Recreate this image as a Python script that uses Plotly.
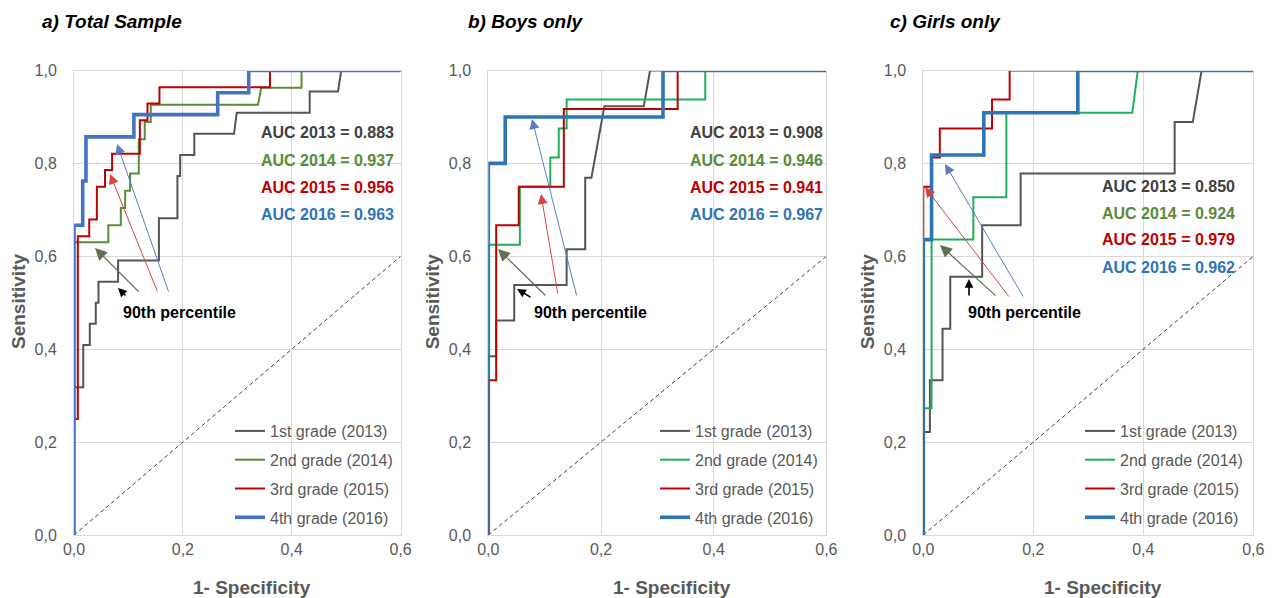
import plotly.graph_objects as go

# ------------------------------------------------------------------ data
GRADES = ["1st grade (2013)", "2nd grade (2014)", "3rd grade (2015)", "4th grade (2016)"]
YEARS = [2013, 2014, 2015, 2016]
PANEL_TITLES = ["a) Total Sample", "b) Boys only", "c) Girls only"]
X_TICKS = [0.0, 0.2, 0.4, 0.6]
Y_TICKS = [0.0, 0.2, 0.4, 0.6, 0.8, 1.0]
DIAG_X = [0.0, 0.6]
DIAG_Y = [0.0, 0.6]

# a) Total sample  (1 - specificity, sensitivity) vertices
a13_x = [0, 0, 0.017, 0.017, 0.029, 0.029, 0.040, 0.040, 0.045, 0.045, 0.081, 0.081, 0.156, 0.156,
         0.190, 0.190, 0.195, 0.195, 0.221, 0.221, 0.294, 0.299, 0.433, 0.433, 0.485, 0.491, 0.6]
a13_y = [0, 0.318, 0.318, 0.409, 0.409, 0.455, 0.455, 0.500, 0.500, 0.545, 0.545, 0.591, 0.591, 0.682,
         0.682, 0.773, 0.773, 0.818, 0.818, 0.864, 0.864, 0.909, 0.909, 0.955, 0.955, 1.0, 1.0]
a14_x = [0, 0, 0.063, 0.063, 0.086, 0.086, 0.094, 0.094, 0.103, 0.103, 0.119, 0.119, 0.130, 0.130,
         0.141, 0.141, 0.338, 0.344, 0.418, 0.418, 0.6]
a14_y = [0, 0.630, 0.630, 0.667, 0.667, 0.704, 0.704, 0.741, 0.741, 0.778, 0.778, 0.852, 0.852, 0.889,
         0.889, 0.926, 0.926, 0.963, 0.963, 1.0, 1.0]
a15_x = [0, 0, 0.007, 0.007, 0.028, 0.028, 0.042, 0.042, 0.057, 0.057, 0.070, 0.070, 0.121, 0.121,
         0.135, 0.135, 0.157, 0.157, 0.360, 0.360, 0.6]
a15_y = [0, 0.25, 0.25, 0.643, 0.643, 0.679, 0.679, 0.750, 0.750, 0.786, 0.786, 0.821, 0.821, 0.893,
         0.893, 0.929, 0.929, 0.964, 0.964, 1.0, 1.0]
a16_x = [0, 0, 0.016, 0.016, 0.022, 0.022, 0.110, 0.110, 0.264, 0.264, 0.321, 0.321, 0.6]
a16_y = [0, 0.667, 0.667, 0.762, 0.762, 0.857, 0.857, 0.905, 0.905, 0.952, 0.952, 1.0, 1.0]

# b) Boys only
b13_x = [0, 0, 0.014, 0.014, 0.046, 0.046, 0.139, 0.139, 0.172, 0.172, 0.183, 0.206, 0.276, 0.287, 0.6]
b13_y = [0, 0.385, 0.385, 0.462, 0.462, 0.538, 0.538, 0.615, 0.615, 0.769, 0.769, 0.923, 0.923, 1.0, 1.0]
b14_x = [0, 0, 0.056, 0.056, 0.110, 0.110, 0.125, 0.125, 0.139, 0.139, 0.385, 0.385, 0.6]
b14_y = [0, 0.625, 0.625, 0.750, 0.750, 0.8125, 0.8125, 0.875, 0.875, 0.9375, 0.9375, 1.0, 1.0]
b15_x = [0, 0, 0.014, 0.014, 0.054, 0.054, 0.134, 0.134, 0.336, 0.336, 0.6]
b15_y = [0, 0.333, 0.333, 0.667, 0.667, 0.750, 0.750, 0.917, 0.917, 1.0, 1.0]
b16_x = [0, 0, 0.030, 0.030, 0.310, 0.310, 0.6]
b16_y = [0, 0.800, 0.800, 0.900, 0.900, 1.0, 1.0]

# c) Girls only
c13_x = [0, 0, 0.012, 0.012, 0.035, 0.035, 0.049, 0.049, 0.107, 0.107, 0.177, 0.177, 0.457, 0.457,
         0.490, 0.506, 0.6]
c13_y = [0, 0.222, 0.222, 0.333, 0.333, 0.444, 0.444, 0.556, 0.556, 0.667, 0.667, 0.778, 0.778, 0.889,
         0.889, 1.0, 1.0]
c14_x = [0, 0, 0.015, 0.015, 0.091, 0.091, 0.151, 0.151, 0.380, 0.390, 0.6]
c14_y = [0, 0.273, 0.273, 0.636, 0.636, 0.727, 0.727, 0.909, 0.909, 1.0, 1.0]
c15_x = [0, 0, 0.015, 0.015, 0.030, 0.030, 0.125, 0.125, 0.157, 0.157, 0.6]
c15_y = [0, 0.750, 0.750, 0.8125, 0.8125, 0.875, 0.875, 0.9375, 0.9375, 1.0, 1.0]
c16_x = [0, 0, 0.015, 0.015, 0.110, 0.110, 0.281, 0.281, 0.6]
c16_y = [0, 0.636, 0.636, 0.818, 0.818, 0.909, 0.909, 1.0, 1.0]

AUC_A = [0.883, 0.937, 0.956, 0.963]
AUC_B = [0.908, 0.946, 0.941, 0.967]
AUC_C = [0.850, 0.924, 0.979, 0.962]

# ------------------------------------------------------------------ styling / layout
W, H = 1273, 598
FONT = "Liberation Sans, Arial, sans-serif"
AXIS_GRAY = "#595959"
GRID = "#d9d9d9"

def px(x):
    return x / W

def py(y):
    return 1 - y / H

PLOT_TOP, PLOT_BOTTOM = 70.5, 535
panels = [
    dict(x0=74.0, x1=400.6,
         curves=[(a13_x, a13_y), (a14_x, a14_y), (a15_x, a15_y), (a16_x, a16_y)],
         colors=["#555555", "#5b8a3a", "#c00000", "#4472c4"],
         auc=AUC_A, auc_right=396, auc_top=133,
         legend_left=230, title_left=40,
         pct_center=179,
         arrows=[((118, 288), (127, 297), "#000000", 1.6),
                 ((95, 248), (140, 293), "#5f6f4f", 1.2),
                 ((110, 174), (158, 293), "#d64541", 1.0),
                 ((117, 144), (169, 293), "#5b7dc0", 1.0)]),
    dict(x0=488.3, x1=826.4,
         curves=[(b13_x, b13_y), (b14_x, b14_y), (b15_x, b15_y), (b16_x, b16_y)],
         colors=["#555555", "#1fae5b", "#c00000", "#2e75b6"],
         auc=AUC_B, auc_right=825, auc_top=133,
         legend_left=655, title_left=466,
         pct_center=590,
         arrows=[((517, 289), (532, 298), "#000000", 1.6),
                 ((498, 249), (547, 297), "#5f6f4f", 1.2),
                 ((541, 194), (558, 295), "#d64541", 1.0),
                 ((532, 119), (577, 297), "#5b7dc0", 1.0)]),
    dict(x0=923.3, x1=1253.3,
         curves=[(c13_x, c13_y), (c14_x, c14_y), (c15_x, c15_y), (c16_x, c16_y)],
         colors=["#555555", "#1fae5b", "#c00000", "#2e75b6"],
         auc=AUC_C, auc_right=1237, auc_top=186,
         legend_left=1080, title_left=888,
         pct_center=1024,
         arrows=[((969, 279), (969, 297), "#000000", 1.6),
                 ((940, 245), (997, 297), "#5f6f4f", 1.2),
                 ((925, 187), (1010, 298), "#d64541", 1.0),
                 ((945, 164), (1024, 298), "#5b7dc0", 1.0)]),
]
AUC_COLORS = ["#404040", "#5b8a3a", "#c00000", "#2e75b6"]
WIDTHS = [2.0, 2.0, 2.0, 3.6]

fig = go.Figure()
annotations = []
layout_extra = {}

for i, p in enumerate(panels):
    suffix = "" if i == 0 else str(i + 1)
    xa, ya = "x" + suffix, "y" + suffix
    leg = "legend" + suffix

    fig.add_trace(go.Scatter(x=DIAG_X, y=DIAG_Y, mode="lines", xaxis=xa, yaxis=ya,
                             line=dict(color="#404040", width=1, dash="4px,3px"),
                             showlegend=False, hoverinfo="skip"))
    for k, ((cx, cy), col) in enumerate(zip(p["curves"], p["colors"])):
        fig.add_trace(go.Scatter(x=cx, y=cy, mode="lines", xaxis=xa, yaxis=ya,
                                 name=GRADES[k], legend=leg, legendgroup=f"{i}-{k}",
                                 line=dict(color=col, width=WIDTHS[k])))

    layout_extra["xaxis" + suffix] = dict(
        domain=[px(p["x0"]), px(p["x1"])], anchor=ya, range=[0, 0.6], automargin=False,
        tickvals=X_TICKS, tickformat=".1f", showgrid=True, gridcolor=GRID, gridwidth=1,
        zeroline=False, showline=True, linecolor=GRID, linewidth=1, mirror=True,
        ticks="", tickfont=dict(size=16, color=AXIS_GRAY, family=FONT))
    layout_extra["yaxis" + suffix] = dict(
        domain=[py(PLOT_BOTTOM), py(PLOT_TOP)], anchor=xa, range=[0, 1.0], automargin=False,
        tickvals=Y_TICKS, tickformat=".1f", showgrid=True, gridcolor=GRID, gridwidth=1,
        zeroline=False, showline=True, linecolor=GRID, linewidth=1, mirror=True,
        ticks="", ticklabelstandoff=13, tickfont=dict(size=16, color=AXIS_GRAY, family=FONT))
    layout_extra[leg] = dict(
        x=px(p["legend_left"]), xanchor="left", y=py(414), yanchor="top",
        bgcolor="rgba(0,0,0,0)", tracegroupgap=5,
        font=dict(size=16, color=AXIS_GRAY, family=FONT))

    # panel title
    annotations.append(dict(text=f"<b><i>{PANEL_TITLES[i]}</i></b>", x=px(p["title_left"]), y=py(21.5),
                            xref="paper", yref="paper", xanchor="left", yanchor="middle",
                            showarrow=False, font=dict(size=19, color="#000000", family=FONT)))
    # axis titles
    annotations.append(dict(text="<b>Sensitivity</b>", x=px(p["x0"] - 56), y=py(302),
                            xref="paper", yref="paper", xanchor="center", yanchor="middle",
                            textangle=-90, showarrow=False,
                            font=dict(size=19, color=AXIS_GRAY, family=FONT)))
    annotations.append(dict(text="<b>1- Specificity</b>", x=px((p["x0"] + p["x1"]) / 2 + 15), y=py(587),
                            xref="paper", yref="paper", xanchor="center", yanchor="middle",
                            showarrow=False, font=dict(size=19, color=AXIS_GRAY, family=FONT)))
    # AUC labels
    for k, (yr, auc) in enumerate(zip(YEARS, p["auc"])):
        annotations.append(dict(text=f"<b>AUC {yr} = {auc:.3f}</b>", x=px(p["auc_right"]),
                                y=py(p["auc_top"] + 27 * k), xref="paper", yref="paper",
                                xanchor="right", yanchor="middle", showarrow=False,
                                font=dict(size=16, color=AUC_COLORS[k], family=FONT)))
    # "90th percentile"
    annotations.append(dict(text="<b>90th percentile</b>", x=px(p["pct_center"]), y=py(312),
                            xref="paper", yref="paper", xanchor="center", yanchor="middle",
                            showarrow=False, font=dict(size=16, color="#000000", family=FONT)))
    for (tip, tail, col, w) in p["arrows"]:
        annotations.append(dict(text="", x=px(tip[0]), y=py(tip[1]), xref="paper", yref="paper",
                                ax=tail[0] - tip[0], ay=tail[1] - tip[1], axref="pixel", ayref="pixel",
                                showarrow=True, arrowhead=2, arrowsize=2.0 if w < 1.5 else 1.1,
                                arrowwidth=w, arrowcolor=col, standoff=0, startstandoff=0))

fig.update_layout(
    width=W, height=H, margin=dict(l=0, r=0, t=0, b=0, pad=0, autoexpand=False),
    paper_bgcolor="white", plot_bgcolor="white",
    separators=",.", font=dict(family=FONT, color=AXIS_GRAY),
    annotations=annotations, showlegend=True, **layout_extra)

fig.write_html("out.html", config={"displayModeBar": False},
               post_script="document.body.style.margin='0px';document.body.style.padding='0px';")
